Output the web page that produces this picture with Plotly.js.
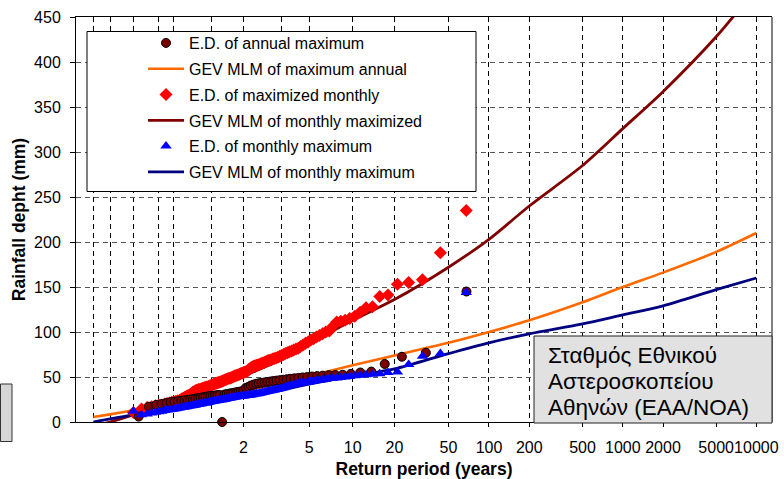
<!DOCTYPE html>
<html><head><meta charset="utf-8">
<script src="https://cdn.plot.ly/plotly-3.0.1.min.js"></script>
<style>html,body{margin:0;padding:0;background:#fff}</style>
</head><body>
<div id="chart" style="width:784px;height:479px"></div>
<script>
// ---------------- data ----------------
const tickReturnPeriods = [2,5,10,20,50,100,200,500,1000,2000,5000,10000];
const tickLabels = ['2','5','10','20','50','100','200','500','1000','2000','5000','10000'];
// extra (unlabelled) grid lines, as non-exceedance probabilities
const gridProbabilities = [0.0001,0.001,0.01,0.05,0.1,0.3,0.7];

// empirical data, sorted by rank (ascending)
const annualMaximum = [6,17,19,20,21,22,22.5,23,23.5,24,24.5,25,25.5,26,26.5,27,27.5,28,28.5,29,29,29.5,30,30,0,
  30.5,31,31.5,32,32.5,33,33.5,34,35,38,39,40.5,41.5,42.5,43,43.5,44,44.5,45,45.5,46,46.5,47,47.5,48,48.5,49,49.5,
  50,50.5,51,51.5,52,52.2,52.5,53.5,55,56,64.5,72.5,77,145];
const maximizedMonthly = [10.5,14.5,16,17,18,18.5,19,20,20.5,21,
  22,22.5,23,23.5,24,25.5,26.5,27.5,28.5,29.5,
  30,31.5,33,34,35,35.5,36,36.5,37,37.5,
  38,38.5,39,39.5,40,40.5,41,42,42.5,43,
  43.5,44,44.5,45,45.5,46,47,47.5,48,48.5,
  49,49.5,50,51,51.5,52,52.5,53,54,54.5,
  55,55.5,56,57,59,60,61,62,62.5,63,
  63.5,64,65,65.5,66,67,68,68.5,69,70,
  70.5,71,72,73,74,75,76,77,78,79,
  80,81,82,84,85.5,87.5,89,91,92.5,94.5,
  96,98,100,101,106.5,111,112,113,115,117.5,
  122,127,128,139.5,141,153,155,158,188,235];
const monthlyMaximum = [12,8,9,10,10.8,11.3,12,12.7,13.2,13.6,
  14,14.4,14.8,15.2,15.6,16,16.3,16.7,17,17.4,
  17.7,18,18.4,18.7,19,19.4,19.7,20,20.4,20.7,
  21,21.2,21.5,21.8,22.1,22.4,22.7,23,23.4,23.7,
  24,24.2,24.4,24.6,24.8,25,25.4,25.7,26,26.4,
  26.7,27,27.3,27.6,27.8,28,28.2,28.4,28.6,28.8,
  29,29.2,29.4,29.6,29.8,30,30.3,30.7,31,31.3,
  31.5,32,32.3,32.7,33,33.5,34,34.5,34.8,35,
  35.5,36,36.5,37,37.5,38,39,40,40.5,41,
  41.5,42,42.5,43,43.5,44,44.5,45,45.5,46,
  46.5,47,47.5,48.3,48.7,49,49.5,50,50.5,51.5,
  52,52.5,53,53.5,55,55.5,64,73,76,144];

// fitted GEV (MLM) curves
const curveReturnPeriods = [1.0001,1.001,1.01,1.05,1.1,1.2,1.5,2,3,5,10,20,50,100,200,500,1000,2000,5000,10000];
const gevAnnual          = [5.5,8.5,13,17.5,20,24,29.5,34.5,41.5,51,63,74,88,100,113,133,150,166,189,210];
const gevMaximizedMonthly= [-5,0,8,16,21,27,39,51,66,87,113,136,172,203,240,285,326,367,428,482];
const gevMonthlyMaximum  = [0,3.5,8,12,14.5,17.5,23,28,34,42,51,59,76,88,98,109,119,129,147,160];

// ---------------- helpers ----------------
const gumbelFromF = F => -Math.log(-Math.log(F));
const gumbelFromT = T => gumbelFromF(1 - 1/T);
// plotting positions F = (i - a) / (n + b)
function plotPositions(n, a, b){ const out=[]; for(let i=1;i<=n;i++) out.push(gumbelFromF((i-a)/(n+b))); return out; }

const W=784,H=479, mL=76, mR=12, mT=17, mB=57;
const pw=W-mL-mR, ph=H-mT-mB;
const px2x = p => (p-mL)/pw;
const px2y = p => (H-mB-p)/ph;

const FONT = '"Liberation Sans", Arial, sans-serif';
const XR = [-2.52, 9.48];

const gridVals = gridProbabilities.map(gumbelFromF).concat(tickReturnPeriods.map(gumbelFromT));
const tickVals = tickReturnPeriods.map(gumbelFromT);

const curveX = curveReturnPeriods.map(gumbelFromT);

const traces = [
  {x:curveX, y:gevAnnual, mode:'lines', name:'GEV MLM of maximum annual', legendrank:2, legendgroup:'b',
   line:{color:'#ff6a00', width:2.6, shape:'spline', smoothing:0.8}},
  {x:curveX, y:gevMaximizedMonthly, mode:'lines', name:'GEV MLM of monthly maximized', legendrank:4, legendgroup:'d',
   line:{color:'#800000', width:2.8, shape:'spline', smoothing:0.8}},
  {x:curveX, y:gevMonthlyMaximum, mode:'lines', name:'GEV MLM of monthly maximum', legendrank:6, legendgroup:'f',
   line:{color:'#000080', width:2.8, shape:'spline', smoothing:0.8}},
  {x:plotPositions(maximizedMonthly.length,-0.2,2), y:maximizedMonthly, mode:'markers', name:'E.D. of maximized monthly',
   legendrank:3, legendgroup:'c', marker:{symbol:'diamond', size:10, color:'#ff0000'}},
  {x:plotPositions(annualMaximum.length,0,1), y:annualMaximum, mode:'markers', name:'E.D. of annual maximum',
   legendrank:1, legendgroup:'a', cliponaxis:false,
   marker:{symbol:'circle', size:9, color:'#7a0000', line:{color:'#000', width:1}}},
  {x:plotPositions(monthlyMaximum.length,-0.2,2), y:monthlyMaximum, mode:'markers', name:'E.D. of monthly maximum',
   legendrank:5, legendgroup:'e', marker:{symbol:'triangle-up', size:10, color:'#0000ff'}},
  {x:[null], y:[null], xaxis:'x2', showlegend:false, hoverinfo:'skip'}
];

const layout = {
  width:W, height:H, margin:{l:mL, r:mR, t:mT, b:mB, pad:0},
  paper_bgcolor:'#fff', plot_bgcolor:'#fff',
  font:{family:FONT, size:16, color:'#000'},
  showlegend:true,
  legend:{x:px2x(143), y:px2y(26), xanchor:'left', yanchor:'top', bgcolor:'rgba(0,0,0,0)', borderwidth:0,
    font:{family:FONT, size:16, color:'#000'}, itemwidth:36, tracegroupgap:2, traceorder:'grouped'},
  xaxis:{range:XR, tickmode:'array', tickvals:gridVals, showticklabels:false, ticks:'',
    showgrid:true, gridcolor:'#000', gridwidth:1, griddash:'5px,4px', zeroline:false,
    showline:true, linecolor:'#000', linewidth:1, mirror:true, fixedrange:true},
  xaxis2:{overlaying:'x', anchor:'y', side:'bottom', range:XR, tickmode:'array', tickvals:tickVals, ticktext:tickLabels,
    ticks:'outside', ticklen:4, tickcolor:'#000', tickwidth:1, showgrid:false, zeroline:false, showline:false,
    tickangle:0, ticklabelstandoff:7, tickfont:{family:FONT, size:16, color:'#000'},
    title:{text:'<b>Return period (years)</b>', font:{family:FONT, size:17.5, color:'#000'}, standoff:7}},
  yaxis:{range:[0,450], tickmode:'linear', tick0:0, dtick:50, ticks:'outside', ticklen:5, tickcolor:'#000',
    showgrid:true, gridcolor:'#555', gridwidth:1, griddash:'5px,4px', zeroline:false,
    showline:true, linecolor:'#000', linewidth:1, ticklabelstandoff:6,
    tickfont:{family:FONT, size:16, color:'#000'},
    title:{text:'<b>Rainfall depht (mm)</b>', font:{family:FONT, size:17.5, color:'#000'}, standoff:3}},
  shapes:[
    // right border of plot area
    {type:'line', xref:'paper', yref:'paper', x0:1, x1:1, y0:0, y1:1, line:{color:'#808080', width:2}},
    // legend frame
    {type:'rect', xref:'paper', yref:'paper', x0:px2x(87), x1:px2x(476), y0:px2y(191.5), y1:px2y(31.5),
     fillcolor:'#fff', line:{color:'#000', width:1}, layer:'above'},
    // station box
    {type:'rect', xref:'paper', yref:'paper', x0:px2x(534), x1:px2x(772), y0:px2y(423), y1:px2y(336),
     fillcolor:'#e1e1e1', line:{color:'#222', width:1}, layer:'above'},
    // small grey box at the left
    {type:'rect', xref:'paper', yref:'paper', x0:px2x(0.5), x1:px2x(12), y0:px2y(441.5), y1:px2y(384),
     fillcolor:'#d6d6d6', line:{color:'#333', width:1}, layer:'above'}
  ],
  annotations:[
    {text:'Σταθμός Εθνικού', xref:'paper', yref:'paper', x:px2x(546), y:px2y(355), xanchor:'left', yanchor:'middle',
     showarrow:false, font:{family:FONT, size:22.5, color:'#000'}},
    {text:'Αστεροσκοπείου', xref:'paper', yref:'paper', x:px2x(546), y:px2y(381.5), xanchor:'left', yanchor:'middle',
     showarrow:false, font:{family:FONT, size:22.5, color:'#000'}},
    {text:'Αθηνών (ΕΑΑ/ΝΟΑ)', xref:'paper', yref:'paper', x:px2x(546), y:px2y(407), xanchor:'left', yanchor:'middle',
     showarrow:false, font:{family:FONT, size:22.5, color:'#000'}}
  ]
};

Plotly.newPlot('chart', traces, layout, {staticPlot:true, displayModeBar:false});
</script>
</body></html>
